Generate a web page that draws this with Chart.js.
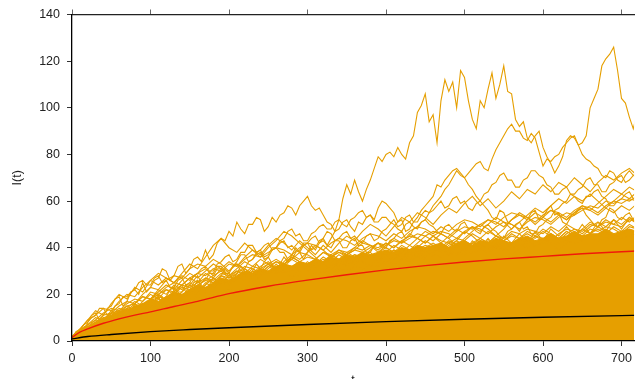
<!DOCTYPE html>
<html>
<head>
<meta charset="utf-8">
<script src="https://cdn.jsdelivr.net/npm/chart.js@4.4.8/dist/chart.umd.min.js"></script>
<style>
  html, body { margin: 0; padding: 0; background: #fff; overflow: hidden; }
  canvas { display: block; }
</style>
</head>
<body>
<canvas id="walks" width="637" height="392"></canvas>
<script>
// time grids
const tFine = [
  0, 5, 10, 15, 20, 25, 30, 35, 40, 45,
  50, 55, 60, 65, 70, 75, 80, 85, 90, 95,
  100, 105, 110, 115, 120, 125, 130, 135, 140, 145,
  150, 155, 160, 165, 170, 175, 180, 185, 190, 195,
  200, 205, 210, 215, 220, 225, 230, 235, 240, 245,
  250, 255, 260, 265, 270, 275, 280, 285, 290, 295,
  300, 305, 310, 315, 320, 325, 330, 335, 340, 345,
  350, 355, 360, 365, 370, 375, 380, 385, 390, 395,
  400, 405, 410, 415, 420, 425, 430, 435, 440, 445,
  450, 455, 460, 465, 470, 475, 480, 485, 490, 495,
  500, 505, 510, 515, 520, 525, 530, 535, 540, 545,
  550, 555, 560, 565, 570, 575, 580, 585, 590, 595,
  600, 605, 610, 615, 620, 625, 630, 635, 640, 645,
  650, 655, 660, 665, 670, 675, 680, 685, 690, 695,
  700, 705, 710, 715, 720
];
const tGrid = [
  0, 10, 20, 30, 40, 50, 60, 70, 80, 90,
  100, 110, 120, 130, 140, 150, 160, 170, 180, 190,
  200, 210, 220, 230, 240, 250, 260, 270, 280, 290,
  300, 310, 320, 330, 340, 350, 360, 370, 380, 390,
  400, 410, 420, 430, 440, 450, 460, 470, 480, 490,
  500, 510, 520, 530, 540, 550, 560, 570, 580, 590,
  600, 610, 620, 630, 640, 650, 660, 670, 680, 690,
  700, 710, 720
];

// runs sampled on tFine
const walkTop = [
  1, 3, 4, 3, 6, 5, 8, 7, 10, 9,
  12, 11, 9, 12, 14, 13, 16, 15, 13, 16,
  18, 17, 20, 19, 16, 19, 22, 21, 18, 21,
  24, 23, 26, 24, 21, 24, 27, 25, 28, 31,
  29, 26, 29, 32, 30, 27, 30, 33, 31, 34,
  36, 33, 30, 33, 36, 34, 37, 40, 38, 35,
  38, 41, 39, 42, 44, 41, 44, 47, 52, 61,
  67, 63, 69, 64, 60, 65, 69, 74, 79, 77,
  80, 81, 79, 83, 80, 78, 85, 88, 98, 101,
  106, 94, 97, 85, 103, 112, 107, 111, 100, 116,
  113, 103, 95, 91, 103, 100, 108, 115, 104, 110,
  118, 107, 106, 95, 92, 94, 87, 85, 88, 90,
  83, 79, 76, 72, 75, 79, 86, 88, 87, 84,
  85, 88, 100, 104, 108, 118, 121, 123, 126, 116,
  104, 102, 96, 91, 98
];
const walkA = [
  1, 4, 5, 3, 8, 11, 12, 9, 11, 14,
  15, 18, 19, 15, 17, 21, 22, 20, 25, 21,
  23, 26, 27, 31, 30, 26, 28, 32, 33, 29,
  31, 35, 36, 34, 39, 35, 37, 42, 44, 43,
  47, 45, 51, 48, 46, 50, 50, 53, 52, 47,
  49, 53, 51, 54, 55, 58, 57, 54, 58, 60,
  62, 58, 56, 57, 54, 51, 50, 47, 48, 51,
  52, 49, 47, 51, 50, 53, 54, 52, 57, 60,
  59, 57, 55, 51, 52, 47, 48, 51, 53, 56,
  58, 60, 62, 67, 66, 69, 71, 73, 74, 72,
  70, 67, 65, 62, 60, 58, 56, 53, 52, 56,
  55, 51, 50, 49, 47, 50, 52, 55, 56, 52,
  53, 56, 58, 54, 55, 51, 50, 53, 54, 56,
  57, 54, 52, 50, 49, 52, 53, 57, 56, 53,
  52, 54, 55, 52, 51
];
const walkB = [
  1, 2, 3, 5, 6, 4, 5, 7, 9, 10,
  8, 10, 11, 13, 14, 12, 12, 15, 16, 14,
  15, 17, 19, 16, 17, 20, 21, 23, 24, 21,
  22, 25, 26, 23, 24, 27, 28, 31, 31, 29,
  29, 32, 33, 30, 31, 34, 35, 37, 38, 35,
  36, 39, 40, 42, 43, 40, 41, 39, 38, 41,
  42, 44, 45, 42, 43, 41, 40, 43, 44, 46,
  47, 44, 45, 43, 42, 45, 46, 43, 44, 47,
  48, 50, 52, 49, 50, 53, 54, 51, 51, 54,
  56, 55, 58, 60, 62, 65, 67, 70, 73, 71,
  70, 72, 74, 76, 77, 74, 73, 78, 82, 85,
  88, 91, 93, 90, 90, 87, 86, 89, 87, 81,
  75, 78, 77, 79, 80, 83, 85, 87, 88, 84,
  80, 78, 77, 75, 74, 71, 70, 73, 72, 69,
  68, 71, 73, 71, 70
];
const walkD = [
  2, 3, 5, 7, 8, 10, 11, 14, 14, 11,
  12, 15, 16, 19, 19, 21, 22, 25, 26, 24,
  24, 27, 28, 25, 26, 23, 23, 26, 27, 24,
  25, 28, 29, 31, 32, 30, 30, 33, 34, 36,
  37, 34, 35, 38, 38, 41, 41, 38, 39, 36,
  37, 40, 40, 38, 38, 35, 35, 38, 39, 42,
  42, 39, 40, 43, 44, 47, 46, 43, 43, 40,
  40, 43, 44, 41, 41, 38, 38, 41, 42, 40,
  40, 43, 44, 46, 47, 44, 45, 48, 49, 51,
  52, 55, 56, 58, 60, 57, 58, 61, 62, 59,
  60, 57, 56, 59, 60, 63, 64, 67, 68, 71,
  72, 69, 69, 66, 66, 69, 70, 73, 73, 71,
  70, 67, 66, 63, 63, 65, 66, 63, 62, 60,
  59, 62, 62, 64, 65, 62, 61, 58, 58, 60,
  61, 63, 64, 61, 62
];
const walkI = [
  1, 3, 2, 4, 5, 3, 4, 6, 7, 9,
  10, 8, 9, 12, 13, 11, 16, 14, 14, 17,
  17, 19, 20, 18, 19, 22, 23, 21, 21, 24,
  24, 26, 28, 25, 26, 29, 29, 32, 32, 30,
  30, 32, 34, 37, 37, 34, 35, 38, 39, 41,
  42, 39, 40, 43, 44, 47, 48, 45, 46, 43,
  43, 46, 47, 49, 50, 48, 48, 51, 52, 50,
  49, 52, 53, 55, 56, 53, 54, 51, 51, 53,
  53, 51, 50, 48, 47, 50, 51, 49, 48, 51,
  52, 50, 49, 47, 46, 49, 50, 48, 47, 50,
  51, 48, 49, 47, 46, 49, 50, 48, 47, 45,
  44, 47, 48, 50, 51, 48, 49, 46, 46, 49,
  50, 52, 53, 56, 57, 59, 60, 63, 63, 65,
  66, 69, 70, 67, 67, 64, 64, 67, 68, 70,
  71, 68, 69, 71, 72
];

// runs sampled on tGrid
const walkC = [
  1, 4, 3, 7, 10, 8, 12, 15, 13, 17,
  20, 18, 22, 20, 24, 27, 25, 29, 27, 31,
  34, 32, 36, 39, 37, 41, 44, 42, 39, 43,
  40, 37, 41, 38, 42, 45, 43, 47, 50, 48,
  45, 49, 53, 51, 55, 53, 50, 54, 57, 55,
  59, 62, 58, 61, 57, 60, 64, 61, 65, 63,
  67, 64, 68, 66, 70, 67, 64, 68, 71, 69,
  72, 74, 71
];
const walkE = [
  1, 3, 6, 9, 8, 11, 14, 13, 16, 19,
  18, 21, 24, 22, 26, 29, 27, 30, 33, 31,
  28, 31, 34, 32, 35, 33, 30, 34, 37, 35,
  38, 41, 39, 36, 39, 37, 40, 43, 41, 38,
  41, 44, 42, 46, 44, 47, 45, 42, 45, 48,
  46, 49, 47, 50, 53, 51, 48, 51, 54, 57,
  55, 58, 61, 59, 62, 60, 63, 60, 57, 60,
  63, 61, 64
];
const walkF = [
  1, 4, 7, 6, 9, 13, 11, 14, 17, 15,
  18, 22, 20, 24, 22, 25, 23, 27, 25, 28,
  26, 29, 27, 30, 28, 31, 34, 32, 35, 33,
  30, 33, 36, 34, 37, 35, 33, 36, 39, 42,
  40, 38, 41, 39, 42, 45, 43, 46, 44, 41,
  44, 47, 50, 48, 45, 48, 52, 55, 53, 50,
  53, 51, 54, 52, 55, 58, 56, 59, 62, 65,
  63, 66, 64
];
const walkG = [
  2, 3, 5, 8, 7, 10, 9, 12, 15, 14,
  17, 15, 19, 18, 21, 24, 21, 25, 23, 26,
  24, 27, 31, 28, 31, 29, 33, 30, 27, 31,
  34, 31, 29, 33, 30, 34, 37, 34, 32, 36,
  33, 37, 35, 39, 35, 39, 36, 40, 37, 41,
  38, 43, 40, 44, 40, 45, 42, 46, 42, 47,
  43, 48, 45, 49, 45, 50, 46, 51, 47, 52,
  48, 53, 50
];
const walkH = [
  1, 5, 9, 13, 11, 16, 20, 18, 23, 21,
  26, 29, 27, 25, 29, 33, 31, 36, 41, 44,
  40, 38, 42, 39, 36, 40, 43, 47, 45, 42,
  39, 36, 33, 37, 35, 32, 35, 38, 36, 34,
  37, 35, 38, 41, 39, 36, 39, 42, 40, 43,
  47, 45, 42, 39, 42, 40, 37, 40, 43, 41,
  44, 42, 39, 42, 45, 48, 46, 49, 47, 44,
  47, 45, 48
];
const walkJ = [
  1, 3, 4, 6, 9, 8, 11, 10, 13, 16,
  15, 18, 17, 20, 19, 22, 21, 24, 27, 25,
  28, 26, 29, 27, 30, 33, 31, 29, 32, 30,
  33, 31, 34, 37, 35, 38, 36, 34, 37, 35,
  38, 41, 39, 37, 40, 43, 41, 39, 42, 40,
  43, 41, 44, 42, 45, 43, 46, 44, 47, 45,
  48, 46, 44, 47, 45, 48, 51, 49, 52, 50,
  53, 51, 54
];
const walkK = [
  1, 4, 6, 8, 11, 12, 13, 15, 16, 19,
  18, 20, 22, 21, 24, 23, 25, 27, 26, 29,
  28, 30, 29, 32, 31, 33, 35, 33, 36, 34,
  36, 35, 38, 37, 39, 38, 40, 39, 41, 40,
  42, 40, 43, 41, 44, 42, 45, 43, 42, 44,
  43, 46, 44, 47, 45, 44, 47, 46, 48, 47,
  46, 49, 47, 50, 48, 47, 50, 49, 51, 50,
  49, 52, 51
];
const walkL = [
  2, 3, 5, 7, 6, 9, 11, 10, 13, 12,
  15, 14, 17, 19, 18, 21, 20, 23, 22, 25,
  24, 27, 26, 25, 28, 30, 29, 31, 30, 33,
  31, 33, 35, 34, 32, 35, 37, 36, 38, 35,
  37, 39, 38, 36, 39, 41, 40, 38, 41, 43,
  41, 40, 43, 42, 40, 43, 45, 44, 42, 45,
  44, 43, 46, 48, 47, 45, 48, 47, 49, 48,
  46, 49, 48
];
const walkM = [
  1, 5, 7, 9, 12, 14, 13, 16, 18, 17,
  21, 20, 23, 25, 24, 27, 29, 28, 31, 30,
  33, 32, 35, 37, 36, 38, 40, 39, 37, 40,
  42, 41, 39, 42, 44, 43, 41, 44, 46, 45,
  43, 46, 44, 47, 49, 48, 46, 49, 47, 50,
  52, 51, 49, 52, 50, 53, 55, 54, 52, 55,
  53, 56, 54, 52, 55, 57, 56, 54, 57, 55,
  58, 56, 59
];
const walkN = [
  1, 2, 4, 6, 7, 8, 10, 11, 12, 13,
  14, 13, 15, 17, 16, 18, 19, 18, 20, 21,
  22, 21, 23, 24, 23, 25, 26, 25, 27, 28,
  27, 29, 30, 29, 31, 30, 32, 31, 33, 32,
  34, 33, 35, 34, 36, 35, 37, 36, 37, 38,
  37, 38, 39, 38, 40, 39, 40, 41, 40, 41,
  42, 41, 42, 43, 42, 43, 44, 43, 44, 45,
  44, 45, 46
];
const walkO = [
  1, 3, 6, 5, 8, 10, 12, 14, 13, 15,
  17, 19, 18, 20, 23, 22, 24, 26, 25, 28,
  27, 29, 32, 31, 29, 32, 34, 33, 35, 38,
  37, 35, 38, 36, 34, 37, 39, 42, 41, 39,
  42, 40, 43, 45, 44, 42, 45, 47, 46, 44,
  47, 49, 48, 46, 49, 51, 50, 48, 51, 53,
  52, 50, 53, 55, 54, 56, 58, 57, 60, 59,
  61, 60, 62
];
const walkP = [
  2, 4, 7, 10, 9, 12, 15, 17, 16, 20,
  23, 22, 26, 28, 27, 31, 33, 32, 35, 33,
  30, 33, 31, 29, 32, 34, 31, 33, 36, 34,
  32, 35, 33, 36, 38, 36, 34, 37, 35, 38,
  40, 38, 36, 39, 37, 40, 42, 40, 43, 41,
  39, 42, 44, 42, 45, 43, 41, 44, 46, 44,
  47, 45, 43, 46, 48, 46, 49, 51, 49, 52,
  50, 53, 51
];
const walkQ = [
  1, 3, 4, 7, 9, 8, 10, 12, 14, 15,
  14, 16, 18, 20, 19, 21, 23, 22, 24, 26,
  25, 27, 29, 28, 30, 29, 31, 33, 32, 34,
  33, 35, 34, 36, 38, 37, 39, 38, 40, 42,
  41, 43, 42, 44, 46, 45, 47, 46, 44, 47,
  49, 48, 50, 52, 51, 49, 52, 54, 53, 51,
  54, 56, 55, 53, 56, 58, 57, 55, 58, 60,
  59, 61, 60
];
const walkR = [
  2, 5, 9, 11, 14, 13, 17, 20, 19, 23,
  26, 24, 27, 25, 28, 26, 29, 31, 28, 30,
  27, 30, 28, 31, 29, 32, 30, 33, 31, 34,
  32, 35, 33, 31, 34, 32, 35, 37, 35, 38,
  36, 39, 37, 35, 38, 40, 38, 41, 39, 37,
  40, 42, 40, 43, 41, 39, 42, 44, 42, 45,
  43, 46, 44, 47, 45, 43, 46, 48, 46, 49,
  47, 50, 48
];

// top of the packed mass of runs (on tGrid)
const massTop = [
  2, 5, 6, 8, 10, 11, 13, 13, 15, 16,
  18, 17, 19, 21, 20, 22, 24, 23, 25, 27,
  26, 28, 30, 29, 31, 30, 32, 33, 32, 34,
  33, 35, 34, 36, 35, 37, 36, 38, 37, 38,
  39, 38, 40, 39, 41, 40, 41, 42, 40, 42,
  43, 41, 43, 42, 44, 43, 42, 44, 45, 43,
  44, 46, 44, 45, 47, 45, 46, 46, 48, 46,
  47, 48, 47
];

// mean curves
const upperT = [0, 10, 20, 40, 60, 80, 100, 130, 160, 200, 250, 300, 350, 400, 450, 500, 550, 600, 650, 700, 720];
const upperV = [1.5, 3.8, 5.2, 7.6, 9.5, 11.1, 12.5, 14.8, 17, 20.3, 23.5, 26.1, 28.4, 30.5, 32.3, 33.9, 35.2, 36.3, 37.4, 38.3, 38.6];
const lowerT = [0, 20, 50, 100, 150, 200, 300, 400, 500, 600, 700, 720];
const lowerV = [0.9, 1.9, 2.8, 4.0, 4.9, 5.7, 7.1, 8.3, 9.3, 10.2, 10.9, 11.0];

const ORANGE = "#e69f00";
const TEXT = "#222";
const FONT = { family: "'Liberation Sans', Arial, sans-serif", size: 12.5 };
const X_MAX = 716;

function toPoints(ts, vs) {
  return vs.map((v, i) => ({ x: ts[i], y: v }));
}

function walkDataset(ts, vs) {
  return {
    data: toPoints(ts, vs),
    borderColor: ORANGE,
    borderWidth: 1.1,
    pointRadius: 0,
    tension: 0,
    fill: false,
    order: 2,
  };
}

const fineWalks = [walkTop, walkA, walkB, walkD, walkI];
const gridWalks = [walkC, walkE, walkF, walkG, walkH, walkJ, walkK, walkL, walkM, walkN, walkO, walkP, walkQ, walkR];

const datasets = [
  {
    data: toPoints(upperT, upperV),
    borderColor: "#f01a0a",
    borderWidth: 1.4,
    pointRadius: 0,
    cubicInterpolationMode: "monotone",
    fill: false,
    order: 0,
  },
  {
    data: toPoints(lowerT, lowerV),
    borderColor: "#000",
    borderWidth: 1.4,
    pointRadius: 0,
    cubicInterpolationMode: "monotone",
    fill: false,
    order: 0,
  },
  ...fineWalks.map((w) => walkDataset(tFine, w)),
  ...gridWalks.map((w) => walkDataset(tGrid, w)),
  {
    data: toPoints(tGrid, massTop),
    borderColor: ORANGE,
    backgroundColor: ORANGE,
    borderWidth: 1.1,
    pointRadius: 0,
    tension: 0,
    fill: "origin",
    order: 3,
  },
];

new Chart(document.getElementById("walks"), {
  type: "line",
  data: { datasets },
  options: {
    responsive: false,
    animation: false,
    layout: { padding: 0 },
    plugins: { legend: { display: false }, tooltip: { enabled: false } },
    scales: {
      x: {
        type: "linear",
        position: "bottom",
        min: 0,
        max: X_MAX,
        afterFit(s) { s.height = 51; },
        ticks: { stepSize: 100, includeBounds: false, color: TEXT, font: FONT, padding: 5, maxRotation: 0 },
        grid: { drawOnChartArea: false, tickLength: 5, color: "#333" },
        border: { display: true, color: "#000", width: 1.3, z: 1 },
        title: { display: true, text: "t", color: TEXT, font: FONT, padding: { top: 0, bottom: 4 } },
      },
      xTop: {
        type: "linear",
        position: "top",
        min: 0,
        max: X_MAX,
        afterFit(s) { s.height = 14; },
        ticks: { stepSize: 100, includeBounds: false, display: false },
        grid: { drawOnChartArea: false, tickLength: 5, color: "#666" },
        border: { display: true, color: "#222", width: 1.3, z: 1 },
      },
      y: {
        min: 0,
        max: 140,
        afterFit(s) { s.width = 72; },
        ticks: { stepSize: 20, color: TEXT, font: FONT, padding: 7 },
        grid: { drawOnChartArea: false, tickLength: 5, color: "#333" },
        border: { display: true, color: "#000", width: 1.3, z: 1 },
        title: { display: true, text: "I(t)", color: TEXT, font: FONT, padding: { top: 10, bottom: 0 } },
      },
    },
  },
});
</script>
</body>
</html>
